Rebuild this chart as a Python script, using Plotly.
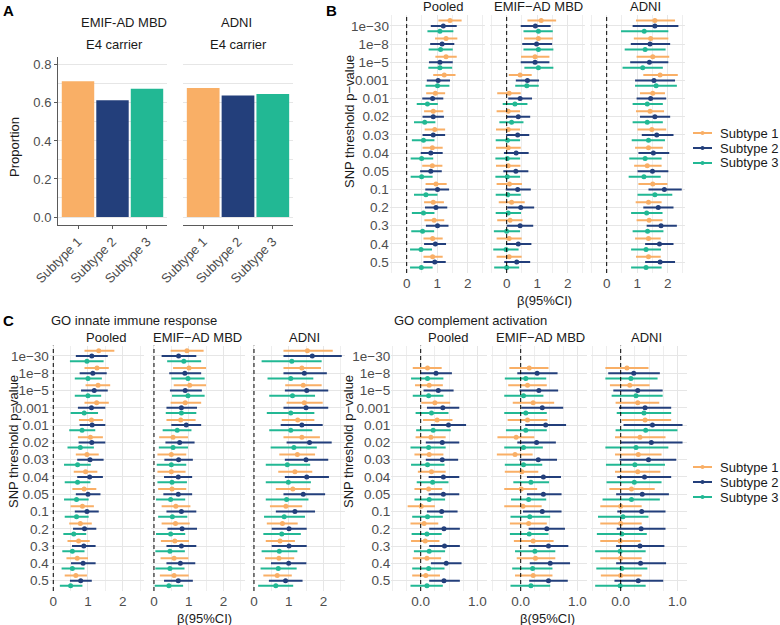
import plotly.graph_objects as go

W, H = 780, 625
FONT = "Liberation Sans, Arial, Helvetica, sans-serif"
GREY = "#4D4D4D"
GRID = "#E6E6E6"
GRID_MINOR = "#EEEEEE"


def px(x):
    return x / W


def py(y):
    return 1 - y / H


# ---------------- data ----------------
SUBTYPES = ["Subtype 1", "Subtype 2", "Subtype 3"]
COLORS = ["#F9AF66", "#233F7B", "#22B894"]
THRESHOLDS = ["1e−30", "1e−8", "1e−5", "0.001", "0.01", "0.02", "0.03",
              "0.04", "0.05", "0.1", "0.2", "0.3", "0.4", "0.5"]

# Panel A: proportion of E4 carriers
A_EMIF = [0.714, 0.614, 0.674]
A_ADNI = [0.679, 0.639, 0.647]

# Panel B: (estimate, lower, upper) per threshold
B_POOLED_S1 = [(1.42, 1.04, 1.80), (1.29, 0.93, 1.66), (1.29, 0.94, 1.64), (1.23, 0.87, 1.60), (0.94, 0.64, 1.26), (0.87, 0.57, 1.20), (0.92, 0.59, 1.26), (0.84, 0.52, 1.18), (0.84, 0.51, 1.17), (0.96, 0.62, 1.31), (0.87, 0.57, 1.22), (0.90, 0.58, 1.23), (0.85, 0.55, 1.18), (0.85, 0.55, 1.18)]
B_POOLED_S2 = [(1.20, 0.79, 1.64), (1.16, 0.77, 1.56), (1.09, 0.73, 1.51), (1.03, 0.66, 1.42), (0.85, 0.51, 1.20), (0.87, 0.52, 1.22), (0.87, 0.52, 1.26), (0.79, 0.46, 1.18), (0.79, 0.44, 1.15), (1.01, 0.61, 1.39), (0.96, 0.60, 1.33), (1.01, 0.63, 1.37), (0.94, 0.57, 1.29), (0.92, 0.55, 1.28)]
B_POOLED_S3 = [(1.09, 0.68, 1.53), (1.11, 0.72, 1.51), (1.09, 0.71, 1.49), (1.01, 0.62, 1.40), (0.68, 0.33, 1.02), (0.59, 0.24, 0.94), (0.55, 0.17, 0.91), (0.49, 0.13, 0.87), (0.49, 0.13, 0.85), (0.63, 0.24, 1.01), (0.55, 0.17, 0.91), (0.52, 0.15, 0.90), (0.47, 0.11, 0.83), (0.48, 0.11, 0.85)]
B_EMIF_S1 = [(1.13, 0.68, 1.62), (1.04, 0.57, 1.51), (0.93, 0.47, 1.40), (0.44, 0.07, 0.82), (0.08, -0.31, 0.46), (0.05, -0.33, 0.44), (0.05, -0.35, 0.44), (0.05, -0.35, 0.46), (0.05, -0.35, 0.45), (0.09, -0.33, 0.50), (0.16, -0.26, 0.59), (0.11, -0.31, 0.52), (0.08, -0.33, 0.49), (0.08, -0.33, 0.49)]
B_EMIF_S2 = [(0.94, 0.46, 1.44), (0.98, 0.51, 1.49), (0.93, 0.46, 1.40), (0.68, 0.30, 1.06), (0.44, 0.05, 0.83), (0.38, 0.00, 0.77), (0.36, -0.02, 0.74), (0.31, -0.09, 0.72), (0.30, -0.11, 0.71), (0.36, -0.03, 0.79), (0.46, 0.02, 0.90), (0.44, 0.00, 0.87), (0.38, -0.02, 0.81), (0.33, -0.08, 0.77)]
B_EMIF_S3 = [(1.04, 0.55, 1.51), (1.04, 0.55, 1.53), (1.04, 0.58, 1.53), (0.66, 0.28, 1.05), (0.27, -0.13, 0.68), (0.16, -0.24, 0.55), (0.03, -0.36, 0.44), (0.02, -0.37, 0.44), (0.02, -0.37, 0.44), (0.04, -0.36, 0.46), (0.05, -0.36, 0.47), (0.00, -0.42, 0.44), (-0.02, -0.44, 0.39), (0.00, -0.41, 0.41)]
B_ADNI_S1 = [(1.58, 0.96, 2.24), (1.44, 0.89, 2.02), (1.51, 0.98, 2.05), (1.75, 1.20, 2.33), (1.51, 1.09, 1.91), (1.42, 0.96, 1.88), (1.48, 1.01, 1.95), (1.37, 0.93, 1.84), (1.33, 0.90, 1.80), (1.51, 1.04, 1.99), (1.37, 0.95, 1.80), (1.39, 0.98, 1.83), (1.37, 0.93, 1.77), (1.37, 0.96, 1.77)]
B_ADNI_S2 = [(1.58, 0.85, 2.35), (1.42, 0.79, 2.08), (1.40, 0.77, 2.02), (1.55, 0.93, 2.24), (1.44, 0.98, 1.95), (1.58, 1.09, 2.08), (1.64, 1.15, 2.19), (1.53, 1.04, 2.05), (1.50, 1.01, 2.02), (1.89, 1.37, 2.46), (1.69, 1.20, 2.19), (1.78, 1.31, 2.30), (1.73, 1.26, 2.19), (1.75, 1.26, 2.24)]
B_ADNI_S3 = [(1.23, 0.47, 2.02), (1.26, 0.59, 1.93), (1.18, 0.52, 1.84), (1.62, 0.93, 2.30), (1.33, 0.85, 1.84), (1.33, 0.85, 1.84), (1.37, 0.82, 1.91), (1.26, 0.74, 1.80), (1.22, 0.72, 1.77), (1.58, 1.01, 2.15), (1.31, 0.80, 1.83), (1.34, 0.85, 1.86), (1.29, 0.80, 1.78), (1.29, 0.80, 1.80)]

# Panel C left: GO innate immune response
CI_POOLED_S1 = [(1.31, 0.90, 1.76), (1.26, 0.90, 1.60), (1.29, 0.93, 1.64), (1.25, 0.90, 1.60), (1.10, 0.74, 1.43), (1.07, 0.71, 1.43), (0.97, 0.65, 1.31), (0.93, 0.59, 1.27), (0.89, 0.55, 1.24), (0.84, 0.50, 1.17), (0.78, 0.46, 1.11), (0.73, 0.41, 1.05), (0.69, 0.38, 1.00), (0.65, 0.33, 0.97)]
CI_POOLED_S2 = [(1.11, 0.65, 1.57), (1.14, 0.76, 1.54), (1.18, 0.80, 1.57), (1.10, 0.71, 1.50), (1.12, 0.76, 1.50), (1.11, 0.73, 1.50), (1.06, 0.69, 1.45), (1.05, 0.69, 1.43), (1.00, 0.65, 1.36), (0.97, 0.62, 1.31), (0.90, 0.57, 1.24), (0.88, 0.54, 1.22), (0.86, 0.51, 1.22), (0.79, 0.48, 1.11)]
CI_POOLED_S3 = [(0.97, 0.48, 1.45), (1.00, 0.62, 1.40), (1.00, 0.62, 1.38), (0.89, 0.50, 1.29), (0.83, 0.46, 1.21), (0.78, 0.41, 1.17), (0.70, 0.31, 1.08), (0.70, 0.33, 1.07), (0.67, 0.31, 1.02), (0.67, 0.33, 1.02), (0.59, 0.29, 0.95), (0.55, 0.26, 0.90), (0.55, 0.24, 0.90), (0.50, 0.19, 0.84)]
CI_EMIF_S1 = [(0.95, 0.48, 1.43), (1.01, 0.55, 1.50), (1.03, 0.57, 1.50), (0.90, 0.48, 1.36), (0.77, 0.36, 1.20), (0.55, 0.15, 0.98), (0.50, 0.10, 0.93), (0.50, 0.10, 0.91), (0.52, 0.12, 0.93), (0.63, 0.22, 1.05), (0.62, 0.22, 1.03), (0.60, 0.20, 1.01), (0.58, 0.19, 0.99), (0.58, 0.17, 1.00)]
CI_EMIF_S2 = [(0.71, 0.22, 1.22), (0.89, 0.44, 1.36), (0.90, 0.46, 1.38), (0.79, 0.36, 1.24), (0.93, 0.50, 1.36), (0.74, 0.33, 1.17), (0.71, 0.30, 1.12), (0.70, 0.29, 1.10), (0.70, 0.27, 1.10), (0.79, 0.36, 1.22), (0.81, 0.39, 1.24), (0.79, 0.36, 1.22), (0.76, 0.36, 1.19), (0.70, 0.29, 1.12)]
CI_EMIF_S3 = [(0.86, 0.38, 1.36), (0.98, 0.50, 1.46), (0.98, 0.52, 1.46), (0.79, 0.34, 1.22), (0.67, 0.25, 1.08), (0.55, 0.14, 0.98), (0.50, 0.08, 0.93), (0.52, 0.10, 0.95), (0.48, 0.06, 0.90), (0.53, 0.12, 0.96), (0.48, 0.06, 0.90), (0.46, 0.04, 0.89), (0.46, 0.04, 0.88), (0.43, 0.02, 0.84)]
CI_ADNI_S1 = [(1.54, 0.85, 2.27), (1.38, 0.85, 1.93), (1.42, 0.90, 1.95), (1.45, 0.94, 1.98), (1.26, 0.80, 1.74), (1.38, 0.85, 1.90), (1.25, 0.73, 1.76), (1.18, 0.70, 1.68), (1.12, 0.63, 1.62), (0.92, 0.46, 1.39), (0.82, 0.37, 1.26), (0.75, 0.34, 1.18), (0.72, 0.32, 1.16), (0.67, 0.27, 1.09)]
CI_ADNI_S2 = [(1.68, 0.85, 2.53), (1.45, 0.85, 2.10), (1.52, 0.89, 2.14), (1.50, 0.85, 2.14), (1.38, 0.77, 1.98), (1.60, 0.94, 2.24), (1.50, 0.89, 2.14), (1.52, 0.89, 2.16), (1.42, 0.85, 2.05), (1.18, 0.63, 1.76), (1.01, 0.51, 1.52), (1.01, 0.51, 1.52), (1.00, 0.49, 1.51), (0.91, 0.43, 1.40)]
CI_ADNI_S3 = [(1.09, 0.22, 1.95), (1.06, 0.39, 1.71), (1.11, 0.44, 1.76), (1.06, 0.37, 1.74), (1.06, 0.44, 1.68), (1.15, 0.48, 1.81), (0.96, 0.34, 1.62), (0.99, 0.34, 1.64), (0.94, 0.34, 1.57), (0.87, 0.29, 1.47), (0.80, 0.27, 1.35), (0.73, 0.22, 1.25), (0.70, 0.19, 1.23), (0.63, 0.12, 1.13)]

# Panel C right: GO complement activation (no estimate at 1e-30)
CC_POOLED_S1 = [None, (0.12, -0.14, 0.37), (0.15, -0.10, 0.39), (0.25, 0.01, 0.52), (0.29, 0.04, 0.56), (0.18, -0.09, 0.44), (0.15, -0.11, 0.40), (0.19, -0.05, 0.44), (0.14, -0.11, 0.38), (0.01, -0.23, 0.25), (0.06, -0.18, 0.31), (0.08, -0.17, 0.33), (0.11, -0.14, 0.36), (0.09, -0.15, 0.34)]
CC_POOLED_S2 = [None, (0.27, -0.01, 0.55), (0.31, 0.05, 0.58), (0.39, 0.11, 0.68), (0.49, 0.18, 0.80), (0.38, 0.09, 0.68), (0.38, 0.09, 0.66), (0.40, 0.14, 0.68), (0.40, 0.14, 0.68), (0.37, 0.11, 0.65), (0.41, 0.15, 0.69), (0.42, 0.15, 0.69), (0.45, 0.18, 0.72), (0.41, 0.15, 0.69)]
CC_POOLED_S3 = [None, (0.12, -0.17, 0.40), (0.14, -0.14, 0.40), (0.19, -0.09, 0.49), (0.22, -0.08, 0.53), (0.14, -0.18, 0.44), (0.12, -0.17, 0.42), (0.21, -0.07, 0.49), (0.15, -0.11, 0.43), (0.12, -0.15, 0.39), (0.11, -0.16, 0.37), (0.15, -0.12, 0.43), (0.14, -0.15, 0.42), (0.11, -0.18, 0.39)]
CC_EMIF_S1 = [None, (0.15, -0.20, 0.49), (0.12, -0.22, 0.46), (0.22, -0.14, 0.59), (0.12, -0.23, 0.47), (-0.08, -0.41, 0.24), (-0.10, -0.42, 0.21), (0.02, -0.28, 0.31), (0.01, -0.29, 0.29), (0.04, -0.29, 0.37), (0.14, -0.19, 0.46), (0.22, -0.12, 0.58), (0.26, -0.07, 0.61), (0.22, -0.10, 0.56)]
CC_EMIF_S2 = [None, (0.29, -0.06, 0.65), (0.32, -0.02, 0.66), (0.38, 0.01, 0.75), (0.44, 0.08, 0.80), (0.28, -0.06, 0.62), (0.31, -0.02, 0.64), (0.40, 0.11, 0.71), (0.40, 0.11, 0.72), (0.38, 0.04, 0.72), (0.46, 0.14, 0.78), (0.49, 0.14, 0.84), (0.52, 0.16, 0.87), (0.49, 0.15, 0.83)]
CC_EMIF_S3 = [None, (0.09, -0.28, 0.45), (0.05, -0.29, 0.40), (0.09, -0.29, 0.46), (0.09, -0.26, 0.46), (0.05, -0.29, 0.39), (0.05, -0.28, 0.38), (0.18, -0.13, 0.50), (0.14, -0.17, 0.45), (0.16, -0.18, 0.52), (0.15, -0.19, 0.49), (0.25, -0.10, 0.61), (0.21, -0.15, 0.56), (0.18, -0.18, 0.52)]
CC_ADNI_S1 = [None, (0.11, -0.27, 0.49), (0.16, -0.19, 0.51), (0.30, -0.09, 0.68), (0.43, 0.02, 0.89), (0.34, -0.10, 0.79), (0.31, -0.10, 0.72), (0.30, -0.10, 0.70), (0.19, -0.20, 0.60), (0.00, -0.36, 0.37), (0.00, -0.36, 0.37), (-0.01, -0.36, 0.35), (0.00, -0.36, 0.37), (0.00, -0.35, 0.37)]
CC_ADNI_S2 = [None, (0.23, -0.22, 0.69), (0.30, -0.13, 0.74), (0.43, -0.03, 0.89), (0.56, 0.05, 1.09), (0.54, 0.00, 1.09), (0.49, -0.02, 0.98), (0.42, -0.06, 0.89), (0.38, -0.08, 0.85), (0.37, -0.06, 0.79), (0.36, -0.07, 0.79), (0.34, -0.08, 0.77), (0.35, -0.08, 0.80), (0.31, -0.11, 0.75)]
CC_ADNI_S3 = [None, (0.18, -0.27, 0.65), (0.27, -0.16, 0.74), (0.41, -0.07, 0.89), (0.44, -0.09, 1.00), (0.27, -0.27, 0.84), (0.25, -0.26, 0.78), (0.24, -0.25, 0.72), (0.19, -0.32, 0.69), (0.04, -0.40, 0.49), (0.02, -0.42, 0.46), (-0.01, -0.45, 0.44), (0.02, -0.43, 0.47), (-0.01, -0.45, 0.44)]

COHORTS = ["Pooled", "EMIF−AD MBD", "ADNI"]

# ---------------- figure ----------------
fig = go.Figure()
layout = dict(
    width=W, height=H, autosize=False,
    margin=dict(l=0, r=0, t=0, b=0, pad=0, autoexpand=False),
    paper_bgcolor="white", plot_bgcolor="white", showlegend=False,
    font=dict(family=FONT, size=13, color="#1A1A1A"),
)

# ---- Panel A ----
A_Y_DOMAIN = [py(225), py(56.5)]
for idx, (vals, xdom, show_y) in enumerate([(A_EMIF, [58, 167], True),
                                             (A_ADNI, [183, 293], False)], start=1):
    fig.add_trace(go.Bar(
        x=SUBTYPES, y=vals, marker=dict(color=COLORS, line=dict(width=0)),
        width=0.94, xaxis=f"x{idx}", yaxis=f"y{idx}", hoverinfo="skip"))
    layout[f"xaxis{idx}"] = dict(
        domain=[px(xdom[0]), px(xdom[1])], anchor=f"y{idx}", range=[-0.58, 2.58],
        showline=True, linecolor="#5A5A5A", linewidth=1, ticks="outside",
        ticklen=3, tickcolor="#5A5A5A", tickangle=-45, showgrid=False,
        automargin=False, tickfont=dict(size=13, color=GREY), fixedrange=True)
    layout[f"yaxis{idx}"] = dict(
        domain=A_Y_DOMAIN, anchor=f"x{idx}", range=[-0.042, 0.844],
        tickvals=[0, 0.2, 0.4, 0.6, 0.8], ticktext=["0.0", "0.2", "0.4", "0.6", "0.8"],
        showticklabels=show_y, showline=show_y, linecolor="#5A5A5A",
        ticks="outside" if show_y else "", ticklen=3, tickcolor="#5A5A5A",
        showgrid=True, gridcolor=GRID, gridwidth=1, zeroline=False, automargin=False,
        minor=dict(tickvals=[0.1, 0.3, 0.5, 0.7], showgrid=True, gridcolor=GRID, ticks=""),
        tickfont=dict(size=13, color=GREY))

# ---- Forest panels ----
OFFSETS = [-0.3, 0.0, 0.3]

B_X = dict(range=[-0.55, 2.55], tickvals=[0, 1, 2], ticktext=["0", "1", "2"],
           minor=[-0.5, 0.5, 1.5, 2.5])
CI_X = dict(range=[-0.1, 2.62], tickvals=[0, 1, 2], ticktext=["0", "1", "2"],
            minor=[0.5, 1.5, 2.5])
CC_X = dict(range=[-0.52, 1.16], tickvals=[0, 1], ticktext=["0.0", "1.0"],
            minor=[-0.5, -0.25, 0.25, 0.5, 0.75])

B_YDOM = [15, 273]
C_YDOM = [345.6, 591]

PANELS = [
    # axis idx, series (S1,S2,S3), x-domain px, y-domain px, x spec, show y labels
    (3, (B_POOLED_S1, B_POOLED_S2, B_POOLED_S3), [389.9, 484.5], B_YDOM, B_X, True),
    (4, (B_EMIF_S1, B_EMIF_S2, B_EMIF_S3), [489.9, 584.5], B_YDOM, B_X, False),
    (5, (B_ADNI_S1, B_ADNI_S2, B_ADNI_S3), [589.9, 684.5], B_YDOM, B_X, False),
    (6, (CI_POOLED_S1, CI_POOLED_S2, CI_POOLED_S3), [49.8, 144.2], C_YDOM, CI_X, True),
    (7, (CI_EMIF_S1, CI_EMIF_S2, CI_EMIF_S3), [150.5, 244.9], C_YDOM, CI_X, False),
    (8, (CI_ADNI_S1, CI_ADNI_S2, CI_ADNI_S3), [250.5, 344.9], C_YDOM, CI_X, False),
    (9, (CC_POOLED_S1, CC_POOLED_S2, CC_POOLED_S3), [391.2, 486.5], C_YDOM, CC_X, True),
    (10, (CC_EMIF_S1, CC_EMIF_S2, CC_EMIF_S3), [491.2, 586.5], C_YDOM, CC_X, False),
    (11, (CC_ADNI_S1, CC_ADNI_S2, CC_ADNI_S3), [591.2, 686.5], C_YDOM, CC_X, False),
]

shapes = []
for idx, series, xdom, ydom, xspec, show_y in PANELS:
    for s, data in enumerate(series):
        xs, ys, plus, minus = [], [], [], []
        for k, item in enumerate(data):
            if item is None:
                continue
            est, lo, hi = item
            xs.append(est)
            ys.append(k + OFFSETS[s])
            plus.append(hi - est)
            minus.append(est - lo)
        fig.add_trace(go.Scatter(
            x=xs, y=ys, mode="markers",
            marker=dict(color=COLORS[s], size=5, line=dict(width=0)),
            error_x=dict(type="data", symmetric=False, array=plus, arrayminus=minus,
                         color=COLORS[s], thickness=2, width=0),
            xaxis=f"x{idx}", yaxis=f"y{idx}", hoverinfo="skip"))
    layout[f"xaxis{idx}"] = dict(
        domain=[px(xdom[0]), px(xdom[1])], anchor=f"y{idx}", range=xspec["range"],
        tickvals=xspec["tickvals"], ticktext=xspec["ticktext"], ticks="",
        showgrid=True, gridcolor=GRID, gridwidth=1, zeroline=False, showline=False,
        automargin=False,
        minor=dict(tickvals=xspec["minor"], showgrid=True, gridcolor=GRID_MINOR,
                   gridwidth=1, ticks=""),
        tickfont=dict(size=13.5, color=GREY))
    layout[f"yaxis{idx}"] = dict(
        domain=[py(ydom[1]), py(ydom[0])], anchor=f"x{idx}",
        range=[len(THRESHOLDS) - 0.4, -0.6],
        tickvals=list(range(len(THRESHOLDS))), ticktext=THRESHOLDS,
        showticklabels=show_y, ticks="", showgrid=True, gridcolor=GRID,
        gridwidth=1, zeroline=False, showline=False, automargin=False,
        tickfont=dict(size=13.5, color=GREY))
    shapes.append(dict(type="line", xref=f"x{idx}", yref=f"y{idx} domain",
                       x0=0, x1=0, y0=0, y1=1,
                       line=dict(color="black", width=1, dash="4px,3px")))

# ---- text ----
annotations = []


def txt(text, x, y, size=13, color="#1A1A1A", xanchor="center", angle=0, bold=False):
    annotations.append(dict(
        text=f"<b>{text}</b>" if bold else text, x=px(x), y=py(y),
        xref="paper", yref="paper", showarrow=False, xanchor=xanchor,
        yanchor="middle", textangle=angle,
        font=dict(family=FONT, size=size, color=color)))


txt("A", 8, 11, size=15, bold=True, color="black")
txt("B", 331, 11, size=15, bold=True, color="black")
txt("C", 8, 320, size=15, bold=True, color="black")

txt("EMIF-AD MBD", 124, 22)
txt("ADNI", 237, 22)
txt("E4 carrier", 114, 44)
txt("E4 carrier", 238, 44)
txt("Proportion", 15, 147, angle=-90)

for name, xc in zip(COHORTS, [443, 538, 645]):
    txt(name, xc, 7)
for name, xc in zip(COHORTS, [106, 197, 304]):
    txt(name, xc, 337)
for name, xc in zip(COHORTS, [448, 540, 646]):
    txt(name, xc, 337)

txt("GO innate immune response", 49, 320, xanchor="left")
txt("GO complement activation", 392, 320, xanchor="left")

txt("β(95%CI)", 544, 300)
txt("β(95%CI)", 204, 618)
txt("β(95%CI)", 547, 618)

txt("SNP threshold p−value", 349, 122, angle=-90)
txt("SNP threshold p−value", 13, 442, angle=-90)
txt("SNP threshold p−value", 348, 442, angle=-90)

# ---- legends (line + point keys) ----
for ys in ([133, 148, 163], [467, 482, 497]):
    for s, yy in enumerate(ys):
        shapes.append(dict(type="line", xref="paper", yref="paper",
                           x0=px(693), x1=px(712), y0=py(yy), y1=py(yy),
                           line=dict(color=COLORS[s], width=2)))
        shapes.append(dict(type="circle", xref="paper", yref="paper",
                           x0=px(700.5), x1=px(704.5), y0=py(yy + 2), y1=py(yy - 2),
                           fillcolor=COLORS[s], line=dict(width=0)))
        txt(SUBTYPES[s], 718, yy, xanchor="left")

layout["shapes"] = shapes
layout["annotations"] = annotations
fig.update_layout(**layout)
fig.write_html(
    "out.html",
    config={"displayModeBar": False, "staticPlot": True},
    post_script="document.body.style.margin='0px';"
                "document.body.style.padding='0px';"
                "document.body.style.overflow='hidden';",
)
